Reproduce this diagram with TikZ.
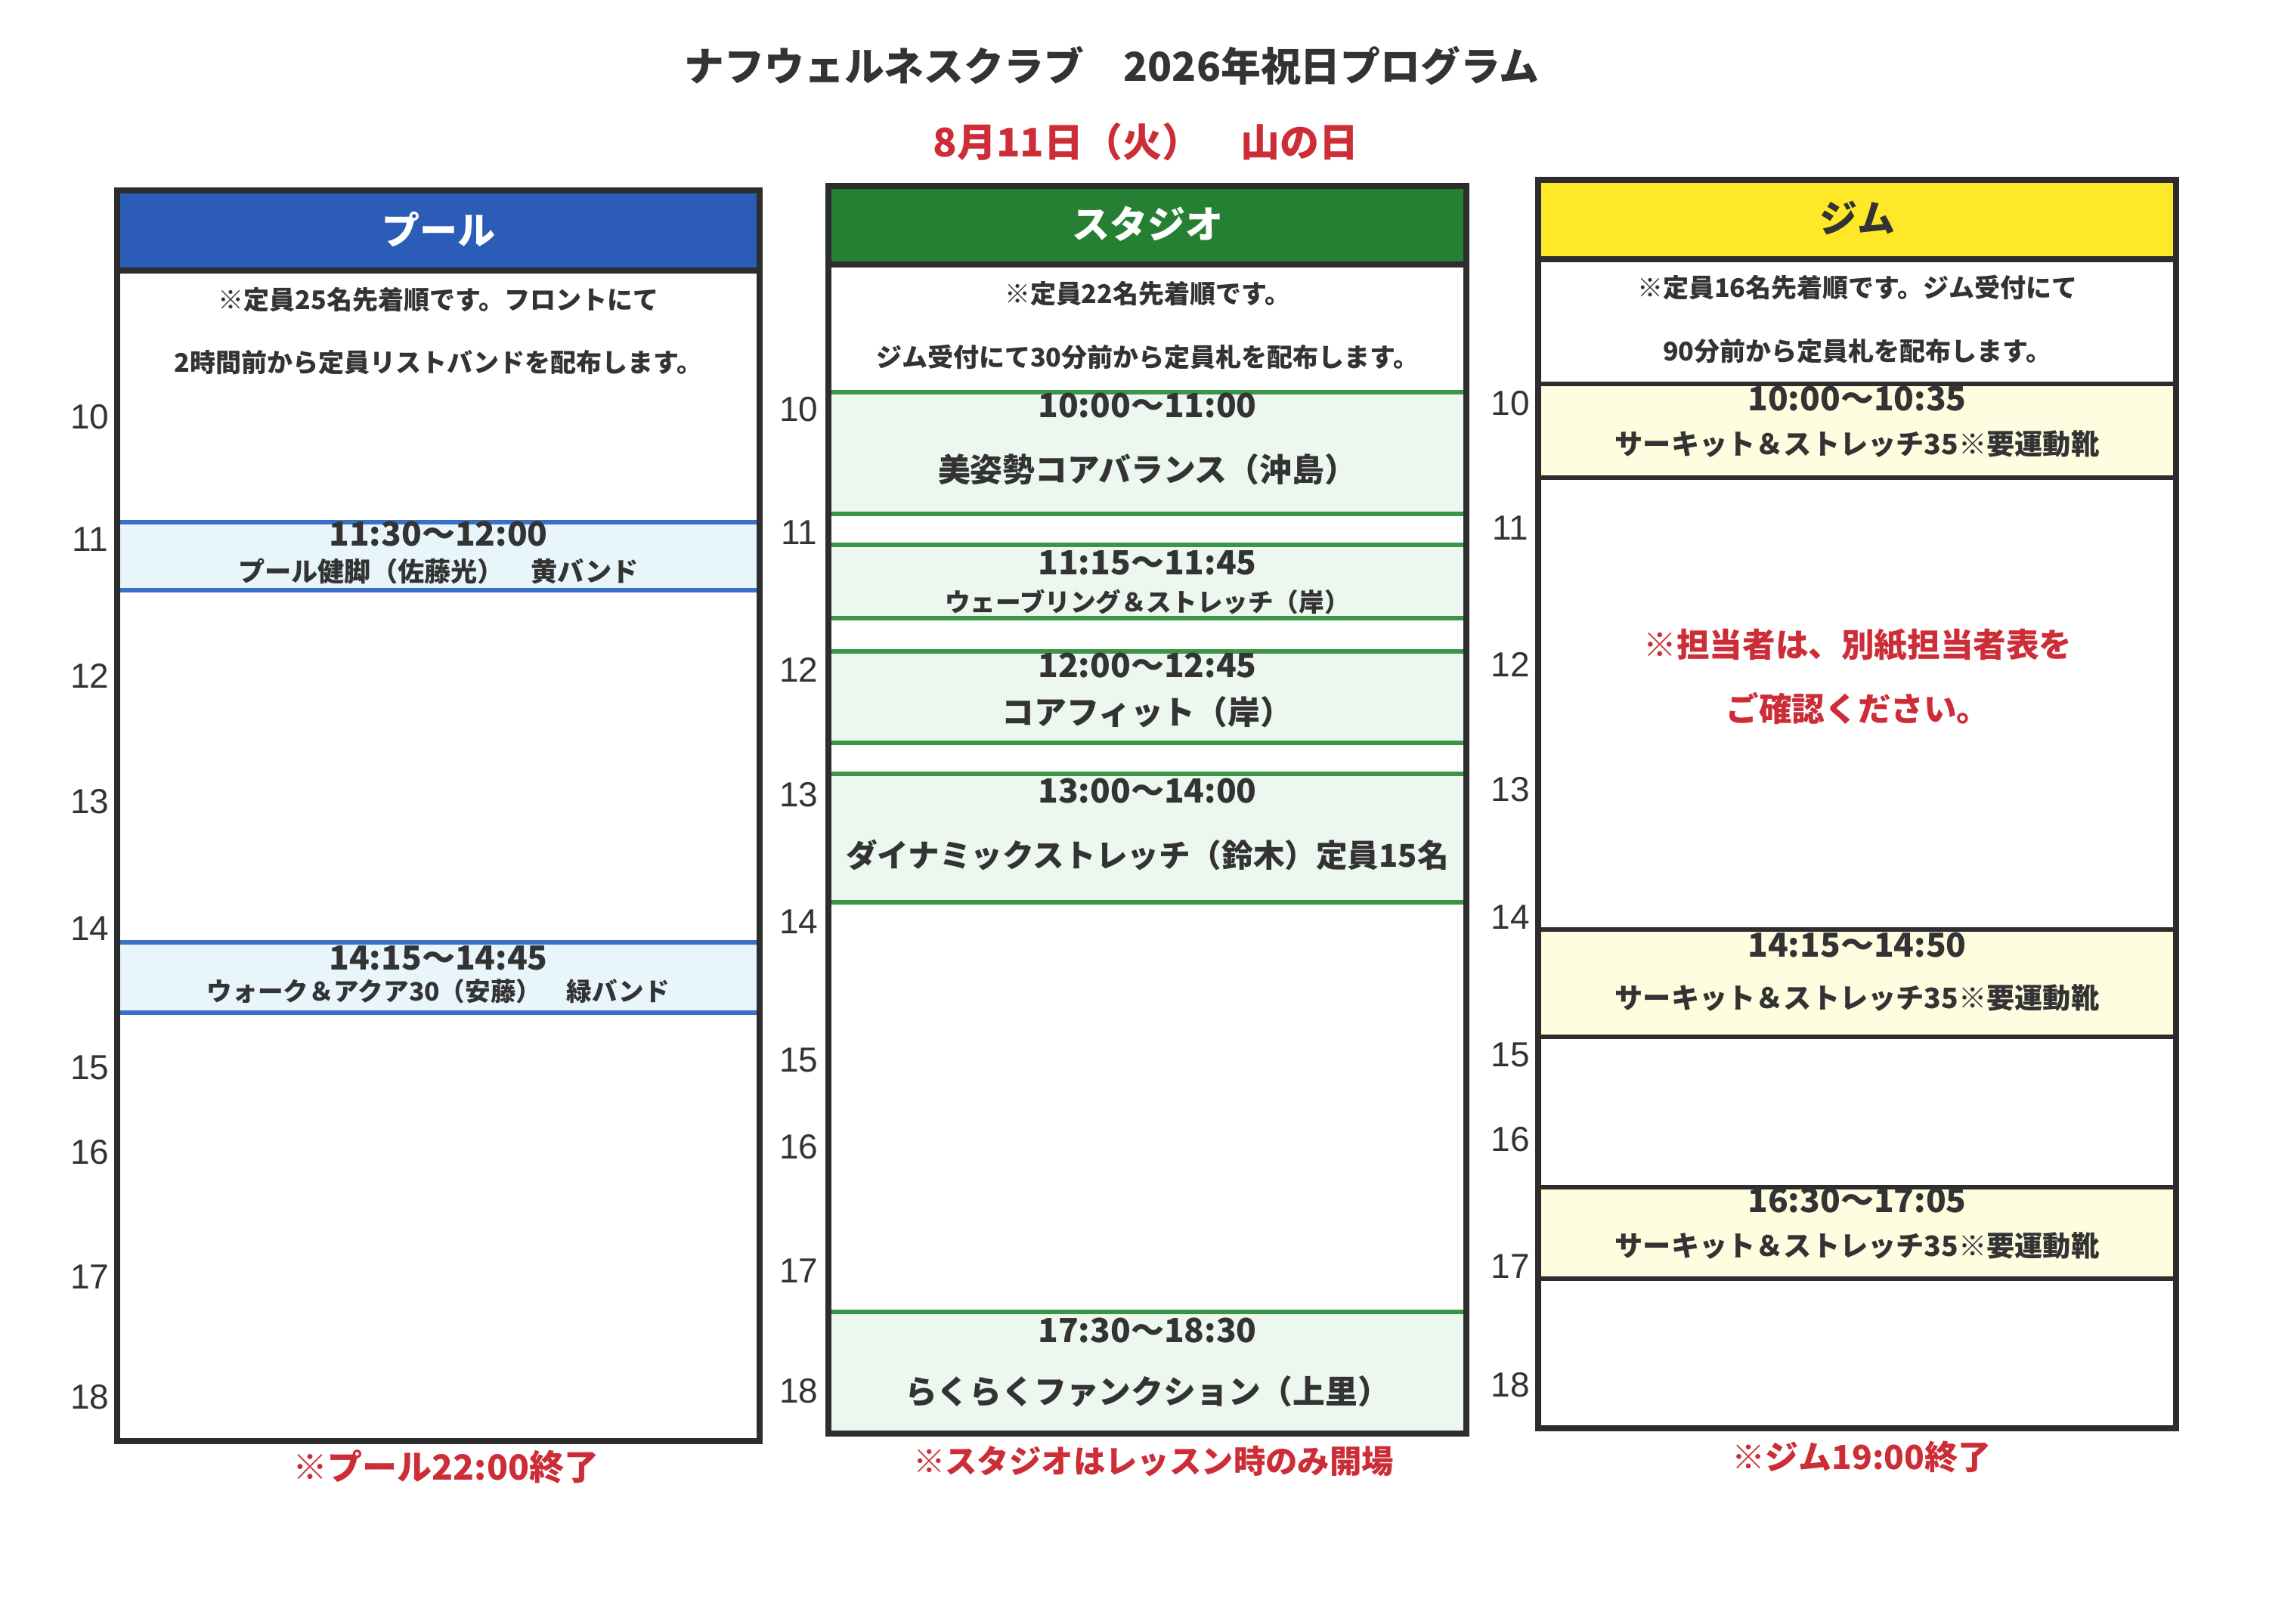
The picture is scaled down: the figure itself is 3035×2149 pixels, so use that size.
\documentclass[tikz,border=0pt]{standalone}
\usepackage{fontspec}
\newfontfamily\jpf{Noto Sans CJK JP}
\newfontfamily\arl{Liberation Sans}
\definecolor{ink}{RGB}{51,51,51}
\definecolor{framec}{RGB}{45,45,45}
\definecolor{poolblue}{RGB}{42,92,184}
\definecolor{studiogreen}{RGB}{38,128,52}
\definecolor{gymyellow}{RGB}{255,232,40}
\definecolor{poolline}{RGB}{58,112,200}
\definecolor{studioline}{RGB}{58,150,70}
\definecolor{poolfill}{RGB}{232,246,252}
\definecolor{studiofill}{RGB}{236,247,240}
\definecolor{gymfill}{RGB}{255,253,224}
\definecolor{redtxt}{RGB}{205,45,55}
\tikzset{
  jp/.style={font={\jpf\bfseries\fontsize{#1pt}{#1pt}\selectfont}, text=ink, inner sep=0pt},
  hr/.style={font={\arl\fontsize{11.5pt}{11.5pt}\selectfont}, text=ink, inner sep=0pt},
  frame/.style={draw=framec, line width=1.8pt},
  pline/.style={draw=poolline, line width=1.7pt},
  sline/.style={draw=studioline, line width=1.7pt},
  gline/.style={draw=framec, line width=1.7pt},
}
\begin{document}
\begin{tikzpicture}[x=0.25pt,y=-0.25pt]
\useasboundingbox (0,0) rectangle (3035,2149);
\fill[white] (0,0) rectangle (3035,2149);
% title
\node[jp=13.2] (title) at (1471,87) {ナフウェルネスクラブ　2026年祝日プログラム};
\node[jp=13, text=redtxt] (date) at (1516,188) {8月11日（火）　山の日};

% ===== Pool =====
\fill[poolblue] (155,252) rectangle (1005,358);
\fill[poolfill] (155,691) rectangle (1005,781);
\fill[poolfill] (155,1247) rectangle (1005,1340);
\draw[pline] (155,691) -- (1005,691);
\draw[pline] (155,781) -- (1005,781);
\draw[pline] (155,1247) -- (1005,1247);
\draw[pline] (155,1340) -- (1005,1340);
\draw[frame] (155,252) rectangle (1005,1907);
\draw[frame] (155,358) -- (1005,358);
\node[jp=12.5, text=white] (poolh) at (580,304) {プール};
\node[jp=8.5] (pi1) at (580,397) {※定員25名先着順です。フロントにて};
\node[jp=8.5] (pi2) at (580,480) {2時間前から定員リストバンドを配布します。};
\node[jp=11] (pe1t) at (580,707) {11:30～12:00};
\node[jp=8.8] (pe1n) at (580,756) {プール健脚（佐藤光）　黄バンド};
\node[jp=11] (pe2t) at (580,1268) {14:15～14:45};
\node[jp=8.4] (pe2n) at (580,1312) {ウォーク＆アクア30（安藤）　緑バンド};
\node[jp=11.5, text=redtxt] (pf) at (590,1941) {※プール22:00終了};
\foreach \h/\y in {10/552,11/714,12/894,13/1061,14/1229,15/1413,16/1525,17/1690,18/1849}
  \node[hr] (ph\h) at (119,\y) {\h};

% ===== Studio =====
\fill[studiogreen] (1096,246) rectangle (1940,350);
\fill[studiofill] (1096,519) rectangle (1940,680);
\fill[studiofill] (1096,721) rectangle (1940,818);
\fill[studiofill] (1096,862) rectangle (1940,983);
\fill[studiofill] (1096,1024) rectangle (1940,1194);
\fill[studiofill] (1096,1736) rectangle (1940,1897);
\foreach \y in {519,680,721,818,862,983,1024,1194,1736}
  \draw[sline] (1096,\y) -- (1940,\y);
\draw[frame] (1096,246) rectangle (1940,1897);
\draw[frame] (1096,350) -- (1940,350);
\node[jp=12.5, text=white] (studioh) at (1518,296) {スタジオ};
\node[jp=8.5] (si1) at (1518,389) {※定員22名先着順です。};
\node[jp=8.5] (si2) at (1518,473) {ジム受付にて30分前から定員札を配布します。};
\node[jp=11] (se1t) at (1518,537) {10:00～11:00};
\node[jp=10.7] (se1n) at (1518,621) {美姿勢コアバランス（沖島）};
\node[jp=11] (se2t) at (1518,745) {11:15～11:45};
\node[jp=8.4] (se2n) at (1518,797) {ウェーブリング＆ストレッチ（岸）};
\node[jp=11] (se3t) at (1518,881) {12:00～12:45};
\node[jp=10.7] (se3n) at (1518,942) {コアフィット（岸）};
\node[jp=11] (se4t) at (1518,1047) {13:00～14:00};
\node[jp=10.4] (se4n) at (1518,1131) {ダイナミックストレッチ（鈴木）定員15名};
\node[jp=11] (se5t) at (1518,1761) {17:30～18:30};
\node[jp=10.7] (se5n) at (1518,1841) {らくらくファンクション（上里）};
\node[jp=10.6, text=redtxt] (sf) at (1526,1934) {※スタジオはレッスン時のみ開場};
\foreach \h/\y in {10/542,11/705,12/886,13/1052,14/1220,15/1403,16/1518,17/1682,18/1841}
  \node[hr] (sh\h) at (1057,\y) {\h};

% ===== Gym =====
\fill[gymyellow] (2035,238) rectangle (2879,343);
\fill[gymfill] (2035,508) rectangle (2879,632);
\fill[gymfill] (2035,1230) rectangle (2879,1372);
\fill[gymfill] (2035,1571) rectangle (2879,1692);
\foreach \y in {508,632,1230,1372,1571,1692}
  \draw[gline] (2035,\y) -- (2879,\y);
\draw[frame] (2035,238) rectangle (2879,1890);
\draw[frame] (2035,343) -- (2879,343);
\node[jp=12.5] (gymh) at (2457,288) {ジム};
\node[jp=8.5] (gi1) at (2457,381) {※定員16名先着順です。ジム受付にて};
\node[jp=8.5] (gi2) at (2457,465) {90分前から定員札を配布します。};
\node[jp=11] (ge1t) at (2457,528) {10:00～10:35};
\node[jp=9.3] (ge1n) at (2457,588) {サーキット＆ストレッチ35※要運動靴};
\node[jp=10.9, text=redtxt] (gn1) at (2458,854) {※担当者は、別紙担当者表を};
\node[jp=10.9, text=redtxt] (gn2) at (2458,937) {ご確認ください。};
\node[jp=11] (ge2t) at (2457,1251) {14:15～14:50};
\node[jp=9.3] (ge2n) at (2457,1321) {サーキット＆ストレッチ35※要運動靴};
\node[jp=11] (ge3t) at (2457,1589) {16:30～17:05};
\node[jp=9.3] (ge3n) at (2457,1649) {サーキット＆ストレッチ35※要運動靴};
\node[jp=11, text=redtxt] (gf) at (2463,1928) {※ジム19:00終了};
\foreach \h/\y in {10/534,11/699,12/879,13/1045,14/1214,15/1396,16/1508,17/1676,18/1833}
  \node[hr] (gh\h) at (1998,\y) {\h};
\end{tikzpicture}
\end{document}
